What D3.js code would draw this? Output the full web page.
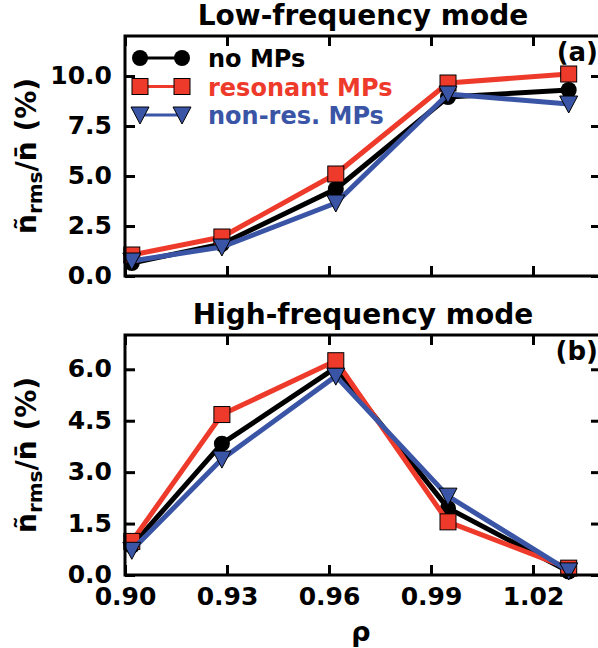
<!DOCTYPE html>
<html>
<head>
<meta charset="utf-8">
<script src="https://cdn.jsdelivr.net/npm/d3@7"></script>
<style>
  body { margin: 0; background: #fff; }
  svg text { font-family: "DejaVu Sans", sans-serif; font-weight: bold; }
</style>
</head>
<body>
<svg id="canvas" width="598" height="648"></svg>
<script>
// data
var rho = [0.902, 0.9285, 0.962, 0.995, 1.0305];
var seriesNames = ["no MPs", "resonant MPs", "non-res. MPs"];
var lowNoMP = [0.65, 1.6, 4.35, 8.95, 9.3];
var lowRes = [1.05, 1.95, 5.1, 9.65, 10.1];
var lowNonRes = [0.75, 1.45, 3.65, 9.1, 8.6];
var highNoMP = [0.85, 3.83, 6.05, 1.95, 0.1];
var highRes = [0.98, 4.68, 6.25, 1.55, 0.2];
var highNonRes = [0.72, 3.38, 5.8, 2.3, 0.12];
var xTicks = [0.90, 0.93, 0.96, 0.99, 1.02];
var lowTicks = [0, 2.5, 5, 7.5, 10];
var highTicks = [0, 1.5, 3, 4.5, 6];

var colors = ["#000000", "#ee3a2b", "#3b55a6"];
var symbols = [d3.symbolCircle, d3.symbolSquare, "tri"];

var svg = d3.select("#canvas");
var left = 125, right = 601;

var x = d3.scaleLinear().domain([0.90, 1.04]).range([left, right]);

function marker(sel, kind, color) {
    if (kind === "tri") {
        sel.append("path").attr("d", "M-9,-8L9,-8L0,9Z")
            .attr("fill", color).attr("stroke", "#000").attr("stroke-width", 1);
    } else if (kind === d3.symbolCircle) {
        sel.append("circle").attr("r", 8).attr("fill", color);
    } else {
        sel.append("rect").attr("x", -8).attr("y", -8).attr("width", 16).attr("height", 16)
            .attr("fill", color).attr("stroke", "#000").attr("stroke-width", 1);
    }
}

function panel(top, bottom, ymax, ticks, fmt, series, title, tag) {
    var y = d3.scaleLinear().domain([0, ymax]).range([bottom, top]);
    var g = svg.append("g");

    // series: line + markers
    series.forEach(function (vals, s) {
        var pts = rho.map(function (r, i) { return [r, vals[i]]; });
        g.append("path")
            .datum(pts)
            .attr("fill", "none")
            .attr("stroke", colors[s])
            .attr("stroke-width", 5)
            .attr("stroke-linejoin", "round")
            .attr("d", d3.line().x(function (d) { return x(d[0]); }).y(function (d) { return y(d[1]); }));
        pts.forEach(function (d) {
            var m = g.append("g").attr("transform", "translate(" + x(d[0]) + "," + y(d[1]) + ")");
            marker(m, symbols[s], colors[s]);
        });
    });

    // axes, ticks pointing inward
    var axL = g.append("g").attr("transform", "translate(" + left + ",0)")
        .call(d3.axisLeft(y).tickValues(ticks).tickSize(-10).tickPadding(13).tickFormat(d3.format(fmt)));
    var axR = g.append("g").attr("transform", "translate(" + right + ",0)")
        .call(d3.axisRight(y).tickValues(ticks).tickSize(-10).tickFormat(""));
    var axT = g.append("g").attr("transform", "translate(0," + top + ")")
        .call(d3.axisTop(x).tickValues(xTicks).tickSize(-10).tickFormat(""));
    var axB = g.append("g").attr("transform", "translate(0," + bottom + ")")
        .call(d3.axisBottom(x).tickValues(xTicks).tickSize(-10).tickPadding(12)
            .tickFormat(tag === "(b)" ? d3.format(".2f") : ""));
    [axL, axR, axT, axB].forEach(function (a) {
        a.select(".domain").remove();
        a.selectAll(".tick line").attr("stroke", "#000").attr("stroke-width", 3);
        a.selectAll("text").attr("font-size", 25).attr("fill", "#000");
    });
    axL.selectAll("text").attr("dy", "0.3em");

    g.append("rect")
        .attr("x", left).attr("y", top)
        .attr("width", right - left).attr("height", bottom - top)
        .attr("fill", "none").attr("stroke", "#000").attr("stroke-width", 3);

    // title
    svg.append("text")
        .attr("x", (left + right) / 2).attr("y", top - 11)
        .attr("text-anchor", "middle").attr("font-size", 28)
        .text(title);

    // panel tag
    svg.append("text")
        .attr("x", 598).attr("y", top + 25)
        .attr("text-anchor", "end").attr("font-size", 26)
        .text(tag);

    // y label
    var cy = (top + bottom) / 2;
    var lab = svg.append("text")
        .attr("transform", "translate(36," + cy + ") rotate(-90)")
        .attr("text-anchor", "middle").attr("font-size", 28);
    lab.append("tspan").text("\u00f1");
    lab.append("tspan").attr("font-size", 20).attr("dy", 6).text("rms");
    lab.append("tspan").attr("dy", -6).text("/n\u0304 (%)");
}

panel(36, 276, 12, lowTicks, ".1f", [lowNoMP, lowRes, lowNonRes], "Low-frequency mode", "(a)");
panel(335, 575, 7, highTicks, ".1f", [highNoMP, highRes, highNonRes], "High-frequency mode", "(b)");

// x label
svg.append("text").attr("x", (left + right) / 2 - 2).attr("y", 641)
    .attr("text-anchor", "middle").attr("font-size", 27).text("\u03c1");

// legend
var leg = svg.append("g");
seriesNames.forEach(function (name, i) {
    var ly = 58 + i * 28.5;
    leg.append("line").attr("x1", 140).attr("x2", 182).attr("y1", ly).attr("y2", ly)
        .attr("stroke", colors[i]).attr("stroke-width", 3);
    [140, 182].forEach(function (lx) {
        var m = leg.append("g").attr("transform", "translate(" + lx + "," + ly + ")");
        marker(m, symbols[i], colors[i]);
    });
    leg.append("text").attr("x", 208).attr("y", ly + 9)
        .attr("font-size", 24).attr("fill", colors[i]).text(name);
});
</script>
</body>
</html>
